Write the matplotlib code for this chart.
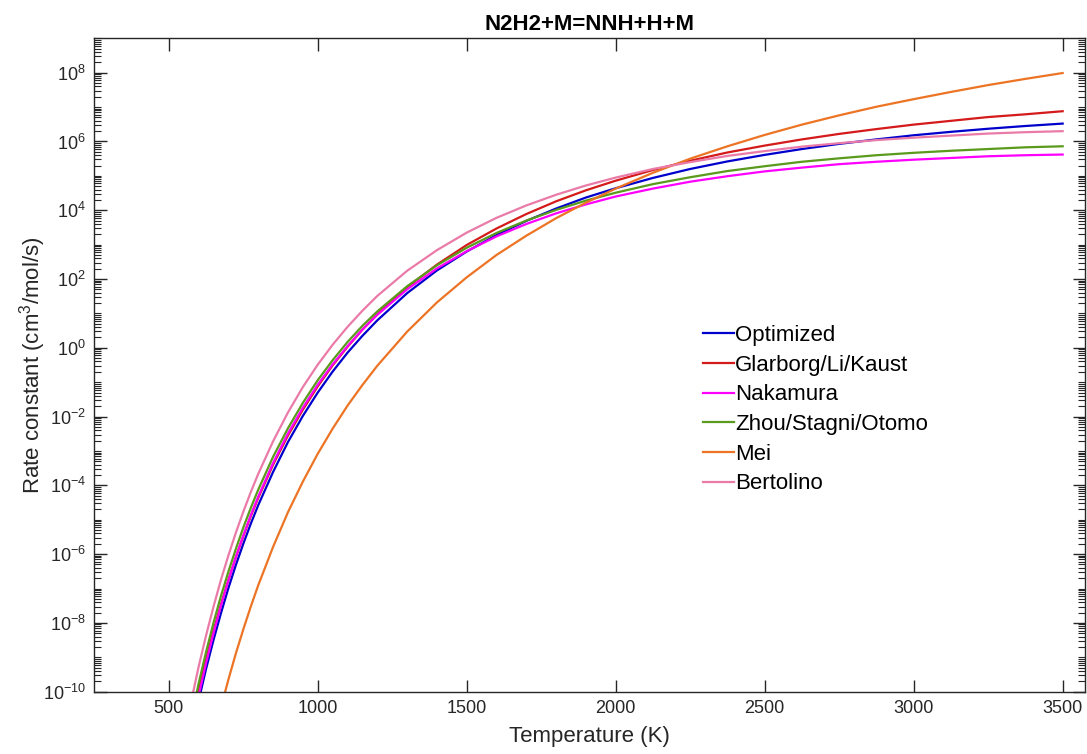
import numpy as np
import matplotlib
matplotlib.use("Agg")
import matplotlib.pyplot as plt
from matplotlib.ticker import LogLocator, NullFormatter, FixedLocator

plt.rcParams["font.family"] = ["Liberation Sans", "DejaVu Sans"]
plt.rcParams["mathtext.fontset"] = "custom"
plt.rcParams["mathtext.rm"] = "Liberation Sans"
plt.rcParams["mathtext.it"] = "Liberation Sans"

temperature = [575, 600, 625, 650, 675, 700, 725, 750, 775, 800,
               850, 900, 950, 1000, 1050, 1100, 1150, 1200,
               1300, 1400, 1500, 1600, 1700, 1800, 1900, 2000,
               2125, 2250, 2375, 2500, 2625, 2750, 2875, 3000, 3125, 3250, 3375, 3500]

# log10 of rate constant (cm3/mol/s)
optimized = [-11.27, -10.27, -9.34, -8.50, -7.72, -6.99, -6.32, -5.70, -5.12, -4.58,
             -3.61, -2.74, -1.98, -1.30, -0.69, -0.14, 0.35, 0.80,
             1.59, 2.25, 2.80, 3.28, 3.69, 4.05, 4.37, 4.64,
             4.94, 5.20, 5.42, 5.61, 5.78, 5.93, 6.06, 6.18, 6.28, 6.37, 6.45, 6.52]
glarborg = [-10.96, -9.97, -9.06, -8.23, -7.46, -6.75, -6.09, -5.48, -4.90, -4.37,
            -3.40, -2.55, -1.80, -1.12, -0.51, 0.03, 0.53, 0.98,
            1.76, 2.42, 2.99, 3.47, 3.89, 4.26, 4.58, 4.86,
            5.17, 5.44, 5.68, 5.88, 6.06, 6.22, 6.36, 6.49, 6.60, 6.71, 6.79, 6.88]
nakamura = [-11.16, -10.12, -9.17, -8.30, -7.50, -6.77, -6.09, -5.46, -4.87, -4.33,
            -3.35, -2.49, -1.74, -1.07, -0.48, 0.05, 0.53, 0.96,
            1.70, 2.31, 2.81, 3.24, 3.60, 3.91, 4.17, 4.40,
            4.63, 4.83, 4.99, 5.13, 5.24, 5.34, 5.41, 5.47, 5.52, 5.57, 5.60, 5.62]
zhou = [-10.78, -9.77, -8.85, -8.00, -7.22, -6.51, -5.85, -5.23, -4.66, -4.13,
        -3.17, -2.34, -1.60, -0.94, -0.36, 0.17, 0.64, 1.06,
        1.79, 2.40, 2.91, 3.34, 3.70, 4.01, 4.28, 4.51,
        4.76, 4.96, 5.14, 5.28, 5.41, 5.51, 5.60, 5.67, 5.73, 5.78, 5.83, 5.86]
mei = [-14.39, -13.29, -12.27, -11.33, -10.46, -9.65, -8.89, -8.19, -7.53, -6.91,
       -5.79, -4.78, -3.89, -3.08, -2.35, -1.68, -1.08, -0.52,
       0.47, 1.32, 2.05, 2.70, 3.26, 3.77, 4.22, 4.63,
       5.09, 5.50, 5.86, 6.19, 6.49, 6.76, 7.01, 7.23, 7.44, 7.64, 7.82, 7.99]
bertolino = [-10.29, -9.28, -8.37, -7.53, -6.75, -6.04, -5.38, -4.77, -4.20, -3.67,
             -2.72, -1.88, -1.14, -0.49, 0.09, 0.61, 1.08, 1.51,
             2.24, 2.84, 3.35, 3.78, 4.14, 4.45, 4.72, 4.95,
             5.20, 5.40, 5.58, 5.72, 5.85, 5.95, 6.04, 6.11, 6.17, 6.23, 6.27, 6.30]

labels = ["Optimized", "Glarborg/Li/Kaust", "Nakamura", "Zhou/Stagni/Otomo", "Mei", "Bertolino"]
series = [optimized, glarborg, nakamura, zhou, mei, bertolino]
colors = ["#0000CC", "#D41A1A", "#FF00FF", "#5A9A1C", "#EC7424", "#EA7BA8"]

fig = plt.figure(figsize=(10.87, 7.54), dpi=100)
ax = fig.add_axes([94.3 / 1087, (754 - 691.7) / 754, (1085 - 94.3) / 1087, (691.7 - 38.3) / 754])

for vals, lab, col in zip(series, labels, colors):
    ax.plot(temperature, 10.0 ** np.array(vals), color=col, lw=1.6, label=lab)

ax.set_yscale("log")
ax.set_xlim(250, 3575)
ax.set_ylim(1e-10, 1e9)

ax.set_xticks([500, 1000, 1500, 2000, 2500, 3000, 3500])
ymaj = [10.0 ** k for k in range(-10, 9, 2)]
ax.yaxis.set_major_locator(FixedLocator(ymaj))
ax.set_yticklabels([r"$10^{%d}$" % k for k in range(-10, 9, 2)])
ax.yaxis.set_minor_locator(LogLocator(base=10, subs=np.arange(1, 10), numticks=100))
ax.yaxis.set_minor_formatter(NullFormatter())

edge = "#262626"
for s in ax.spines.values():
    s.set_color(edge)
    s.set_linewidth(1.0)
ax.tick_params(which="both", direction="in", top=True, right=True, colors=edge,
               labelsize=13, labelcolor=edge)
ax.tick_params(which="major", length=9, width=1.0, pad=6)
ax.tick_params(which="minor", length=5, width=0.8)

ax.set_title("N2H2+M=NNH+H+M", fontsize=16, fontweight="bold", pad=6, color="black")
ax.set_xlabel("Temperature (K)", fontsize=16, color=edge)
ax.set_ylabel(r"Rate constant (cm$^3$/mol/s)", fontsize=16, color=edge)
ax.xaxis.set_label_coords(0.5, -0.052)
ax.yaxis.set_label_coords(-0.047, 0.5)

ax.legend(frameon=False, loc="upper left", bbox_to_anchor=(0.614, 0.561), fontsize=16,
          handlelength=1.4, handletextpad=0.05, labelspacing=0.39, borderpad=0,
          borderaxespad=0)

fig.savefig("out.png", dpi=100)
